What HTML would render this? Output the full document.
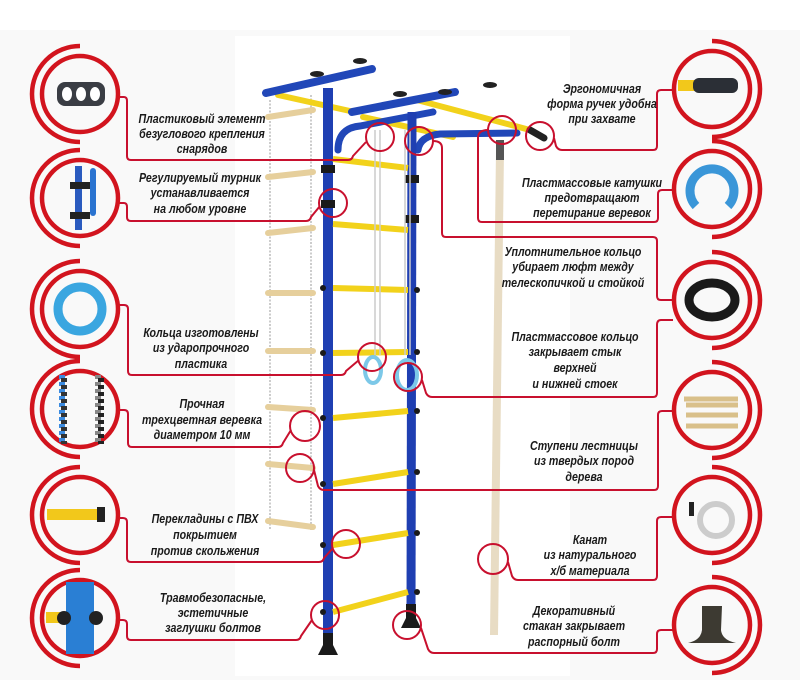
<!DOCTYPE html>
<html><head><meta charset="utf-8"><style>
html,body{margin:0;padding:0;background:#fff}
svg{display:block}
text{font-family:"Liberation Sans",sans-serif;font-weight:bold;font-style:italic;font-size:13px;fill:#1a1a1a;text-anchor:middle}
</style></head><body>
<svg width="800" height="691" viewBox="0 0 800 691" xmlns="http://www.w3.org/2000/svg">
<rect x="0" y="0" width="800" height="691" fill="#fff"/>
<rect x="0" y="30" width="800" height="650" fill="#f9f9f9"/>
<rect x="235" y="36" width="335" height="640" fill="#fff"/>

<!-- rope ladder -->
<g stroke="#bbb" stroke-width="1.5" stroke-dasharray="2 1.5" fill="none">
<line x1="270" y1="100" x2="270" y2="530"/><line x1="311" y1="95" x2="311" y2="530"/>
</g>
<g stroke="#e6cf9c" stroke-width="6" stroke-linecap="round">
<line x1="268" y1="117" x2="313" y2="110"/><line x1="268" y1="177" x2="313" y2="172"/>
<line x1="268" y1="233" x2="313" y2="228"/><line x1="268" y1="293" x2="313" y2="293"/>
<line x1="268" y1="351" x2="313" y2="351"/><line x1="268" y1="407" x2="313" y2="410"/>
<line x1="268" y1="464" x2="313" y2="468"/><line x1="268" y1="521" x2="313" y2="527"/>
</g>

<!-- climbing rope -->
<line x1="500" y1="150" x2="494" y2="635" stroke="#e8dcc4" stroke-width="8"/>
<rect x="496" y="140" width="8" height="20" fill="#555"/>

<!-- top bars -->
<g stroke-linecap="round">
<line x1="278" y1="95" x2="350" y2="111" stroke="#f2d21b" stroke-width="6"/>
<line x1="363" y1="117" x2="453" y2="137" stroke="#f2d21b" stroke-width="6"/>
<line x1="417" y1="100" x2="530" y2="130" stroke="#f2d21b" stroke-width="6"/>
<line x1="266" y1="93" x2="372" y2="69" stroke="#2147b8" stroke-width="8"/>
<line x1="352" y1="112" x2="455" y2="92" stroke="#2147b8" stroke-width="8"/>
<path d="M338 150 Q338 128 360 126 L433 112" stroke="#2147b8" stroke-width="7" fill="none"/>
<path d="M418 150 Q420 136 440 134 L517 133" stroke="#2147b8" stroke-width="7" fill="none"/>
<line x1="530" y1="130" x2="544" y2="138" stroke="#222" stroke-width="7"/>
</g>
<g fill="#222">
<ellipse cx="317" cy="74" rx="7" ry="3"/><ellipse cx="360" cy="61" rx="7" ry="3"/>
<ellipse cx="400" cy="94" rx="7" ry="3"/><ellipse cx="445" cy="92" rx="7" ry="3"/>
<ellipse cx="490" cy="85" rx="7" ry="3"/>
</g>

<!-- uprights -->
<line x1="328" y1="88" x2="328" y2="640" stroke="#1f3fb2" stroke-width="10"/>
<line x1="412" y1="112" x2="411" y2="610" stroke="#1f3fb2" stroke-width="9"/>
<path d="M318 655 L338 655 L333 645 L333 633 L323 633 L323 645 Z" fill="#1a1a1a"/>
<path d="M401 628 L421 628 L416 618 L416 604 L406 604 L406 618 Z" fill="#1a1a1a"/>
<g fill="#1a1a1a">
<rect x="321" y="165" width="14" height="8"/><rect x="321" y="200" width="14" height="8"/><rect x="405" y="175" width="14" height="8"/><rect x="405" y="215" width="14" height="8"/>
</g>

<!-- rungs -->
<g stroke="#f2d21b" stroke-width="6">
<line x1="333" y1="159" x2="408" y2="168"/><line x1="333" y1="224" x2="408" y2="230"/>
<line x1="333" y1="288" x2="408" y2="290"/><line x1="333" y1="353" x2="408" y2="352"/>
<line x1="333" y1="418" x2="408" y2="411"/><line x1="333" y1="484" x2="408" y2="472"/>
<line x1="333" y1="545" x2="408" y2="533"/><line x1="333" y1="612" x2="408" y2="592"/>
</g>
<g fill="#1a1a1a">
<circle cx="323" cy="288" r="3"/><circle cx="323" cy="353" r="3"/><circle cx="323" cy="418" r="3"/><circle cx="323" cy="484" r="3"/><circle cx="323" cy="545" r="3"/><circle cx="323" cy="612" r="3"/>
<circle cx="417" cy="290" r="3"/><circle cx="417" cy="352" r="3"/><circle cx="417" cy="411" r="3"/><circle cx="417" cy="472" r="3"/><circle cx="417" cy="533" r="3"/><circle cx="417" cy="592" r="3"/>
</g>

<!-- gym rings -->
<g stroke="#ccc" stroke-width="1.5"><line x1="375" y1="130" x2="375" y2="355"/><line x1="380" y1="130" x2="380" y2="355"/><line x1="405" y1="130" x2="405" y2="355"/><line x1="410" y1="130" x2="410" y2="355"/></g>
<ellipse cx="373" cy="370" rx="8" ry="13" fill="none" stroke="#7cc8e8" stroke-width="4"/>
<ellipse cx="407" cy="375" rx="10" ry="15" fill="none" stroke="#7cc8e8" stroke-width="4"/>

<!-- connectors -->
<g fill="none" stroke="#c8102e" stroke-width="2" stroke-linejoin="round">
<path d="M118 97 H124 Q127 97 127 101 V156 Q127 160 131 160 H348 Q352 160 353 156 L366 142"/>
<circle cx="380" cy="137" r="14"/>
<path d="M118 203 H124 Q127 203 127 207 V217 Q127 221 131 221 H306 Q310 221 311 217 L320 206"/>
<circle cx="333" cy="203" r="14"/>
<path d="M118 305 H124 Q128 305 128 309 V371 Q128 375 132 375 H341 Q345 375 346 371 L359 360"/>
<circle cx="372" cy="357" r="14"/>
<path d="M118 410 H124 Q128 410 128 414 V443 Q128 447 132 447 H278 Q282 447 283 443 L291 430"/>
<circle cx="305" cy="426" r="15"/>
<path d="M118 518 H123 Q127 518 127 522 V558 Q127 562 131 562 H319 Q323 562 324 558 L333 548"/>
<circle cx="346" cy="544" r="14"/>
<path d="M118 620 H123 Q127 620 127 624 V636 Q127 640 131 640 H296 Q300 640 301 636 L312 620"/>
<circle cx="325" cy="615" r="14"/>

<circle cx="540" cy="136" r="14"/>
<path d="M554 138 L556 146 Q558 150 562 150 H653 Q657 150 657 146 V94 Q657 90 661 90 H673"/>
<circle cx="502" cy="130" r="14"/>
<path d="M488 130 Q478 130 478 138 V218 Q478 222 482 222 H654 Q658 222 658 218 V194 Q658 190 662 190 H673"/>
<circle cx="419" cy="141" r="14"/>
<path d="M433 141 Q442 141 442 148 V233 Q442 237 446 237 H653 Q657 237 657 241 V296 Q657 300 661 300 H673"/>
<circle cx="408" cy="377" r="14"/>
<path d="M422 380 L426 393 Q428 397 432 397 H653 Q657 397 657 393 V325 Q657 320 661 320 H673"/>
<circle cx="300" cy="468" r="14"/>
<path d="M314 470 L318 486 Q320 490 324 490 H654 Q658 490 658 486 V415 Q658 411 662 411 H673"/>
<circle cx="493" cy="559" r="15"/>
<path d="M508 562 L512 576 Q514 580 518 580 H653 Q657 580 657 576 V521 Q657 517 661 517 H673"/>
<circle cx="407" cy="625" r="14"/>
<path d="M421 628 L428 649 Q430 653 434 653 H653 Q657 653 657 649 V634 Q657 630 661 630 H673"/>
</g>

<!-- circles -->
<g fill="none" stroke="#d2141e">
<g stroke-width="4.5">
<circle cx="80" cy="94" r="38"/><circle cx="80" cy="198" r="38"/><circle cx="80" cy="309" r="38"/>
<circle cx="80" cy="409" r="38"/><circle cx="80" cy="515" r="38"/><circle cx="80" cy="618" r="38"/>
<circle cx="712" cy="89" r="38"/><circle cx="712" cy="189" r="38"/><circle cx="712" cy="300" r="38"/>
<circle cx="712" cy="410" r="38"/><circle cx="712" cy="515" r="38"/><circle cx="712" cy="625" r="38"/>
</g>
<g stroke-width="4.5">
<path d="M80 46 A48 48 0 0 0 80 142"/><path d="M80 150 A48 48 0 0 0 80 246"/><path d="M80 261 A48 48 0 0 0 80 357"/>
<path d="M80 361 A48 48 0 0 0 80 457"/><path d="M80 467 A48 48 0 0 0 80 563"/><path d="M80 570 A48 48 0 0 0 80 666"/>
<path d="M712 41 A48 48 0 0 1 712 137"/><path d="M712 141 A48 48 0 0 1 712 237"/><path d="M712 252 A48 48 0 0 1 712 348"/>
<path d="M712 362 A48 48 0 0 1 712 458"/><path d="M712 467 A48 48 0 0 1 712 563"/><path d="M712 577 A48 48 0 0 1 712 673"/>
</g>
</g>

<!-- circle contents -->
<rect x="57" y="82" width="48" height="24" rx="8" fill="#3a3d44"/>
<g fill="#fff"><ellipse cx="67" cy="94" rx="5" ry="7"/><ellipse cx="81" cy="94" rx="5" ry="7"/><ellipse cx="95" cy="94" rx="5" ry="7"/></g>
<rect x="75" y="166" width="7" height="64" fill="#2a5bbf"/><rect x="90" y="168" width="6" height="48" rx="3" fill="#2a73d0"/>
<rect x="70" y="182" width="20" height="7" fill="#222"/><rect x="70" y="212" width="20" height="7" fill="#222"/>
<circle cx="80" cy="309" r="22" fill="none" stroke="#3aa6e0" stroke-width="9"/>
<g stroke-width="6" stroke-dasharray="4 3"><line x1="62" y1="375" x2="62" y2="444" stroke="#3b8be0"/><line x1="64" y1="378" x2="64" y2="444" stroke="#333"/><line x1="98" y1="375" x2="98" y2="444" stroke="#888"/><line x1="101" y1="378" x2="101" y2="444" stroke="#222"/></g>
<rect x="47" y="509" width="55" height="11" fill="#f2c81b"/><rect x="97" y="507" width="8" height="15" fill="#222"/>
<rect x="66" y="582" width="28" height="72" fill="#2a7fd4"/><rect x="46" y="612" width="20" height="11" fill="#f2c81b"/>
<circle cx="64" cy="618" r="7" fill="#222"/><circle cx="96" cy="618" r="7" fill="#222"/>

<rect x="678" y="80" width="17" height="11" fill="#f2c81b"/><rect x="693" y="78" width="45" height="15" rx="6" fill="#2b2f36"/>
<path d="M696 206 A22 22 0 1 1 728 206" fill="none" stroke="#3a96d8" stroke-width="9"/>
<ellipse cx="712" cy="300" rx="23" ry="17" fill="none" stroke="#1a1a1a" stroke-width="9"/>
<g stroke="#d9c08a" stroke-width="5"><line x1="684" y1="399" x2="738" y2="399"/><line x1="686" y1="405" x2="738" y2="405"/><line x1="686" y1="415" x2="738" y2="415"/><line x1="686" y1="426" x2="738" y2="426"/></g>
<circle cx="716" cy="520" r="16" fill="none" stroke="#ccc" stroke-width="6"/><rect x="689" y="502" width="5" height="14" fill="#222"/>
<path d="M702 606 L722 606 L721 630 Q722 640 736 643 L688 643 Q701 640 702 630 Z" fill="#3d3a32"/>

<!-- labels left -->
<g transform="translate(202 0) scale(0.82 1)"><text x="0" y="123">Пластиковый элемент</text><text x="0" y="138">безуглового крепления</text><text x="0" y="153">снарядов</text></g>
<g transform="translate(200 0) scale(0.82 1)"><text x="0" y="182">Регулируемый турник</text><text x="0" y="197">устанавливается</text><text x="0" y="213">на любом уровне</text></g>
<g transform="translate(201 0) scale(0.82 1)"><text x="0" y="337">Кольца изготовлены</text><text x="0" y="352">из ударопрочного</text><text x="0" y="368">пластика</text></g>
<g transform="translate(202 0) scale(0.82 1)"><text x="0" y="408">Прочная</text><text x="0" y="424">трехцветная веревка</text><text x="0" y="439">диаметром 10 мм</text></g>
<g transform="translate(205 0) scale(0.82 1)"><text x="0" y="523">Перекладины с ПВХ</text><text x="0" y="539">покрытием</text><text x="0" y="555">против скольжения</text></g>
<g transform="translate(213 0) scale(0.82 1)"><text x="0" y="602">Травмобезопасные,</text><text x="0" y="617">эстетичные</text><text x="0" y="632">заглушки болтов</text></g>
<!-- labels right -->
<g transform="translate(602 0) scale(0.82 1)"><text x="0" y="93">Эргономичная</text><text x="0" y="108">форма ручек удобна</text><text x="0" y="123">при захвате</text></g>
<g transform="translate(592 0) scale(0.82 1)"><text x="0" y="187">Пластмассовые катушки</text><text x="0" y="202">предотвращают</text><text x="0" y="217">перетирание веревок</text></g>
<g transform="translate(573 0) scale(0.82 1)"><text x="0" y="256">Уплотнительное кольцо</text><text x="0" y="271">убирает люфт между</text><text x="0" y="287">телескопичкой и стойкой</text></g>
<g transform="translate(575 0) scale(0.82 1)"><text x="0" y="341">Пластмассовое кольцо</text><text x="0" y="356">закрывает стык</text><text x="0" y="372">верхней</text><text x="0" y="388">и нижней стоек</text></g>
<g transform="translate(584 0) scale(0.82 1)"><text x="0" y="450">Ступени лестницы</text><text x="0" y="465">из твердых пород</text><text x="0" y="481">дерева</text></g>
<g transform="translate(590 0) scale(0.82 1)"><text x="0" y="544">Канат</text><text x="0" y="559">из натурального</text><text x="0" y="575">х/б материала</text></g>
<g transform="translate(574 0) scale(0.82 1)"><text x="0" y="615">Декоративный</text><text x="0" y="630">стакан закрывает</text><text x="0" y="646">распорный болт</text></g>
</svg>
</body></html>
